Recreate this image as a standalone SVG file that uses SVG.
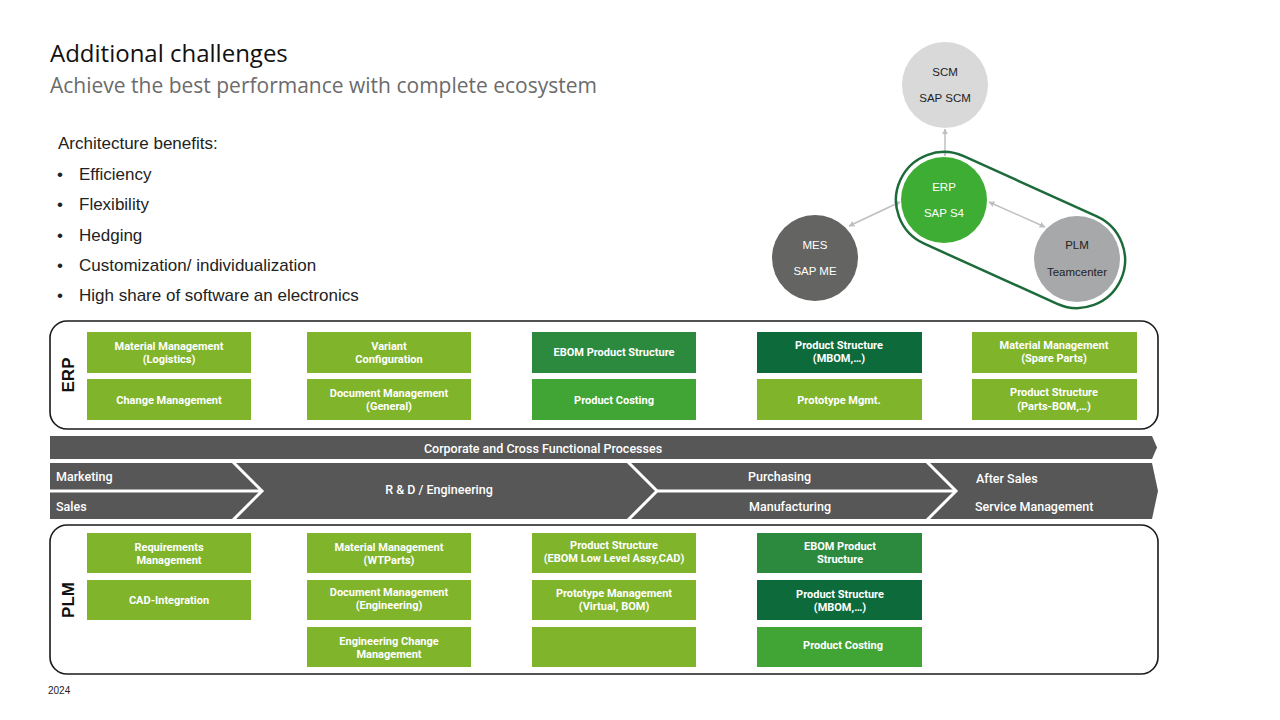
<svg xmlns="http://www.w3.org/2000/svg" width="1280" height="720" viewBox="0 0 1280 720">
<defs>
<marker id="ah" viewBox="0 0 10 10" refX="9" refY="5" markerWidth="4" markerHeight="4" orient="auto-start-reverse" markerUnits="strokeWidth">
<path d="M0,0 L10,5 L0,10 z" fill="#bfbfbf"/>
</marker>
<style>
.t{font-family:"Liberation Sans",Arial,sans-serif}
.bx{font-family:Roboto,"Liberation Sans",sans-serif;font-weight:700;font-size:11px;fill:#fff;text-anchor:middle}
.pb{font-family:Roboto,"Liberation Sans",sans-serif;font-weight:500;font-size:12.5px;fill:#fff}
.lg{fill:#80b42b}
.dg{fill:#2b8a3e}
.vg{fill:#0d6a3b}
.mg{fill:#41a535}
.ct{font-family:"Liberation Sans",Arial,sans-serif;font-size:11.5px;text-anchor:middle}
.frame{fill:#fff;stroke:#1a1a1a;stroke-width:1.6}
.con{stroke:#bfbfbf;stroke-width:1.5;fill:none;marker-start:url(#ah);marker-end:url(#ah)}
.wl{stroke:#fff;stroke-width:3;fill:none}
</style>
</defs>
<rect width="1280" height="720" fill="#fff"/>

<g id="header">
<text x="50" y="62" font-family="'Open Sans',sans-serif" font-size="24" fill="#111">Additional challenges</text>
<text x="50" y="93" font-family="'Open Sans',sans-serif" font-size="21" fill="#6b6b6b">Achieve the best performance with complete ecosystem</text>
</g>

<g id="benefits" class="t" font-size="17" fill="#222">
<text x="58" y="149">Architecture benefits:</text>
<text x="57" y="180">•</text><text x="79" y="180">Efficiency</text>
<text x="57" y="210">•</text><text x="79" y="210">Flexibility</text>
<text x="57" y="241">•</text><text x="79" y="241">Hedging</text>
<text x="57" y="271">•</text><text x="79" y="271">Customization/ individualization</text>
<text x="57" y="301">•</text><text x="79" y="301">High share of software an electronics</text>
</g>

<g id="connectors">
<line class="con" x1="945" y1="129" x2="945" y2="156"/>
<line class="con" x1="849" y1="226" x2="900" y2="202"/>
<line class="con" x1="989" y1="202" x2="1045" y2="227"/>
</g>

<g id="erp-plm-group">
<rect x="889.5" y="182" width="242" height="96" rx="48" fill="none" stroke="#1d6b3b" stroke-width="2.5" transform="rotate(24.3 1010.5 230)"/>
</g>

<g id="node-scm">
<circle cx="945" cy="85" r="43" fill="#d9d9d9"/>
<text class="ct" x="945" y="76" fill="#222">SCM</text>
<text class="ct" x="945" y="102" fill="#222">SAP SCM</text>
</g>
<g id="node-erp">
<circle cx="944" cy="200" r="43" fill="#3dae33"/>
<text class="ct" x="944" y="191" fill="#fff">ERP</text>
<text class="ct" x="944" y="217" fill="#fff">SAP S4</text>
</g>
<g id="node-mes">
<circle cx="815" cy="258" r="43" fill="#646462"/>
<text class="ct" x="815" y="249" fill="#fff">MES</text>
<text class="ct" x="815" y="275" fill="#fff">SAP ME</text>
</g>
<g id="node-plm">
<circle cx="1077" cy="259" r="43" fill="#a7a8aa"/>
<text class="ct" x="1077" y="249" fill="#222">PLM</text>
<text class="ct" x="1077" y="276" fill="#222">Teamcenter</text>
</g>

<g id="erp-layer">
<rect class="frame" x="50" y="321" width="1108" height="108" rx="17"/>
<text transform="translate(74 375) rotate(-90)" text-anchor="middle" font-family="'Liberation Sans',Arial,sans-serif" font-weight="700" font-size="17" fill="#111">ERP</text>
<rect class="lg" x="87" y="332" width="164" height="41"/>
<text class="bx" x="169" y="350">Material Management</text><text class="bx" x="169" y="363">(Logistics)</text>
<rect class="lg" x="87" y="379" width="164" height="41"/>
<text class="bx" x="169" y="404">Change Management</text>
<rect class="lg" x="307" y="332" width="164" height="41"/>
<text class="bx" x="389" y="350">Variant</text><text class="bx" x="389" y="363">Configuration</text>
<rect class="lg" x="307" y="379" width="164" height="41"/>
<text class="bx" x="389" y="397">Document Management</text><text class="bx" x="389" y="410">(General)</text>
<rect class="dg" x="532" y="332" width="164" height="41"/>
<text class="bx" x="614" y="356">EBOM Product Structure</text>
<rect class="mg" x="532" y="379" width="164" height="41"/>
<text class="bx" x="614" y="404">Product Costing</text>
<rect class="vg" x="757" y="332" width="165" height="41"/>
<text class="bx" x="839" y="349">Product Structure</text><text class="bx" x="839" y="362">(MBOM,…)</text>
<rect class="lg" x="757" y="379" width="165" height="41"/>
<text class="bx" x="839" y="404">Prototype Mgmt.</text>
<rect class="lg" x="972" y="332" width="165" height="41"/>
<text class="bx" x="1054" y="349">Material Management</text><text class="bx" x="1054" y="362">(Spare Parts)</text>
<rect class="lg" x="972" y="379" width="165" height="41"/>
<text class="bx" x="1054" y="396">Product Structure</text><text class="bx" x="1054" y="410">(Parts-BOM,…)</text>
</g>

<g id="process-band">
<polygon points="50,436 1152,436 1157,447.5 1152,459 50,459" fill="#575757"/>
<text class="pb" x="543" y="453" text-anchor="middle">Corporate and Cross Functional Processes</text>
<polygon points="50,463 1152,463 1158,491 1152,519 50,519" fill="#575757"/>
<line class="wl" x1="50" y1="491" x2="261" y2="491"/>
<polyline class="wl" points="233,462 262,491 233,520"/>
<polyline class="wl" points="628,462 657,491 628,520"/>
<line class="wl" x1="656" y1="491" x2="954" y2="491"/>
<polyline class="wl" points="927,462 956,491 927,520"/>
<text class="pb" x="56" y="481">Marketing</text>
<text class="pb" x="56" y="511">Sales</text>
<text class="pb" x="439" y="494" text-anchor="middle">R &amp; D / Engineering</text>
<text class="pb" x="748" y="481">Purchasing</text>
<text class="pb" x="749" y="511">Manufacturing</text>
<text class="pb" x="976" y="483">After Sales</text>
<text class="pb" x="975" y="511">Service Management</text>
</g>

<g id="plm-layer">
<rect class="frame" x="50" y="525" width="1108" height="149" rx="17"/>
<text transform="translate(74 600) rotate(-90)" text-anchor="middle" font-family="'Liberation Sans',Arial,sans-serif" font-weight="700" font-size="17" fill="#111">PLM</text>
<rect class="lg" x="87" y="533" width="164" height="40"/>
<text class="bx" x="169" y="551">Requirements</text><text class="bx" x="169" y="564">Management</text>
<rect class="lg" x="87" y="580" width="164" height="40"/>
<text class="bx" x="169" y="604">CAD-Integration</text>
<rect class="lg" x="307" y="533" width="164" height="40"/>
<text class="bx" x="389" y="551">Material Management</text><text class="bx" x="389" y="564">(WTParts)</text>
<rect class="lg" x="307" y="580" width="164" height="40"/>
<text class="bx" x="389" y="596">Document Management</text><text class="bx" x="389" y="609">(Engineering)</text>
<rect class="lg" x="307" y="627" width="164" height="40"/>
<text class="bx" x="389" y="645">Engineering Change</text><text class="bx" x="389" y="658">Management</text>
<rect class="lg" x="532" y="533" width="164" height="40"/>
<text class="bx" x="614" y="549">Product Structure</text><text class="bx" x="614" y="562">(EBOM Low Level Assy,CAD)</text>
<rect class="lg" x="532" y="580" width="164" height="40"/>
<text class="bx" x="614" y="597">Prototype Management</text><text class="bx" x="614" y="610">(Virtual, BOM)</text>
<rect class="lg" x="532" y="627" width="164" height="40"/>
<rect class="dg" x="757" y="533" width="165" height="40"/>
<text class="bx" x="840" y="550">EBOM Product</text><text class="bx" x="840" y="563">Structure</text>
<rect class="vg" x="757" y="580" width="165" height="40"/>
<text class="bx" x="840" y="598">Product Structure</text><text class="bx" x="840" y="611">(MBOM,…)</text>
<rect class="mg" x="757" y="627" width="165" height="40"/>
<text class="bx" x="843" y="649">Product Costing</text>
</g>

<text x="48" y="694" font-family="'Liberation Sans',Arial,sans-serif" font-size="10" fill="#222">2024</text>
</svg>
